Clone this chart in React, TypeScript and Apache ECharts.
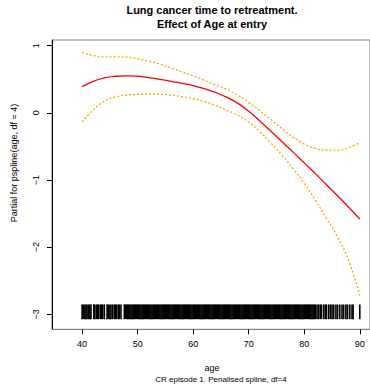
import React, { useEffect, useRef } from "react";
import * as echarts from "echarts";

const ages = [40, 42, 44, 46, 48, 50, 52, 54, 56, 58, 60, 62, 64, 66, 68, 70, 72, 74, 76, 78, 80, 82, 84, 86, 88, 90];
const fitValues = [0.39, 0.47, 0.52, 0.545, 0.552, 0.545, 0.525, 0.5, 0.47, 0.44, 0.405, 0.36, 0.305, 0.235, 0.145, 0.025, -0.12, -0.275, -0.43, -0.585, -0.745, -0.905, -1.07, -1.235, -1.405, -1.58];
const upperValues = [0.9, 0.855, 0.835, 0.835, 0.83, 0.805, 0.77, 0.725, 0.67, 0.61, 0.55, 0.485, 0.42, 0.35, 0.265, 0.155, 0.03, -0.1, -0.235, -0.365, -0.465, -0.53, -0.555, -0.555, -0.515, -0.445];
const lowerValues = [-0.13, 0.04, 0.17, 0.235, 0.265, 0.275, 0.278, 0.277, 0.265, 0.24, 0.21, 0.17, 0.11, 0.04, -0.035, -0.14, -0.28, -0.45, -0.63, -0.83, -1.05, -1.3, -1.57, -1.85, -2.2, -2.72];

const xTicks = [40, 50, 60, 70, 80, 90];
const yTicks = [-3, -2, -1, 0, 1];

const rugAges = [
  40.0, 40.2, 40.5, 40.7, 40.9, 41.2, 41.4, 41.6, 42.1, 42.3, 42.6, 42.8, 43.0, 43.3, 43.5, 43.7, 44.0,
  44.5, 44.7, 45.0, 45.2, 45.5, 45.8, 46.0, 46.2, 46.5, 46.7, 47.0,
  47.6, 47.8, 48.0, 48.2, 48.4, 48.6, 48.8, 49.0, 49.2, 49.4, 49.6, 49.8, 50.0, 50.2, 50.4, 50.6, 50.8,
  51.0, 51.2, 51.4, 51.6, 51.8, 52.0, 52.2, 52.4, 52.6, 52.8, 53.0, 53.2, 53.4, 53.6, 53.8,
  54.0, 54.2, 54.4, 54.6, 54.8, 55.0, 55.2, 55.4, 55.6, 55.8, 56.0, 56.2, 56.4, 56.6, 56.8,
  57.0, 57.2, 57.4, 57.6, 57.8, 58.0, 58.2, 58.4, 58.6, 58.8, 59.0, 59.2, 59.4, 59.6, 59.8,
  60.0, 60.2, 60.4, 60.6, 60.8, 61.0, 61.2, 61.4, 61.6, 61.8, 62.0, 62.2, 62.4, 62.6, 62.8,
  63.0, 63.2, 63.4, 63.6, 63.8, 64.0, 64.2, 64.4, 64.6, 64.8, 65.0, 65.2, 65.4, 65.6, 65.8,
  66.0, 66.2, 66.4, 66.6, 66.8, 67.0, 67.2, 67.4, 67.6, 67.8, 68.0, 68.2, 68.4, 68.6, 68.8,
  69.0, 69.2, 69.4, 69.6, 69.8, 70.0, 70.2, 70.4, 70.6, 70.8, 71.0, 71.2, 71.4, 71.6, 71.8,
  72.0, 72.2, 72.4, 72.6, 72.8, 73.0, 73.2, 73.4, 73.6, 73.8, 74.0, 74.2, 74.4, 74.6, 74.8,
  75.0, 75.2, 75.4, 75.6, 75.8, 76.0, 76.2, 76.4, 76.6, 76.8, 77.0, 77.2, 77.4, 77.6, 77.8,
  78.0, 78.2, 78.4, 78.6, 78.8, 79.0, 79.2, 79.4, 79.6, 79.8, 80.0, 80.2, 80.4, 80.6, 80.8,
  81.0, 81.2, 81.4, 81.6, 81.8, 82.0,
  82.3, 82.6, 82.9, 83.1, 83.5, 83.8, 84.0, 84.4, 84.7, 85.0, 85.3, 85.7, 86.0, 86.4, 86.8,
  87.1, 87.5, 87.8, 88.2, 88.6, 88.8, 90.0,
];

const RUG_TOP = -2.853;
const RUG_BOTTOM = -3.072;

const FONT = "Liberation Sans, Arial, Helvetica, sans-serif";

function pairs(xs: number[], ys: number[]) {
  return xs.map((x, i) => [x, ys[i]]);
}

export default function App() {
  const ref = useRef<HTMLDivElement>(null);
  useEffect(() => {
    if (!ref.current) return;
    const chart = echarts.init(ref.current, undefined, { renderer: "svg" });
    const fmt = (v: number) => (v < 0 ? "\u2212" + Math.abs(v) : String(v));
    const curve = (name: string, ys: number[], color: string, dashed: boolean) => ({
      type: "line",
      name,
      data: pairs(ages, ys),
      smooth: 0.5,
      showSymbol: false,
      lineStyle: { color, width: 1.3, type: dashed ? [2, 2] : "solid" },
    });
    chart.setOption({
      animation: false,
      backgroundColor: "#ffffff",
      grid: {
        left: 52,
        top: 40,
        width: 320,
        height: 289.3,
        show: true,
        borderColor: "#808080",
        borderWidth: 1,
        containLabel: false,
      },
      xAxis: {
        type: "value",
        min: 34.58,
        max: 91.84,
        splitLine: { show: false },
        axisLine: { show: true, onZero: false, lineStyle: { color: "#808080", width: 1 } },
        axisTick: {
          show: true,
          length: 5,
          customValues: xTicks,
          lineStyle: { color: "#000000", width: 1 },
        },
        axisLabel: {
          customValues: xTicks,
          color: "#000000",
          fontFamily: FONT,
          fontSize: 9,
          margin: 10,
        },
      },
      yAxis: {
        type: "value",
        min: -3.223,
        max: 1.085,
        splitLine: { show: false },
        axisLine: { show: true, onZero: false, lineStyle: { color: "#000000", width: 1 } },
        axisTick: {
          show: true,
          length: 5,
          customValues: yTicks,
          lineStyle: { color: "#000000", width: 1 },
        },
        axisLabel: {
          customValues: yTicks,
          rotate: 90,
          color: "#000000",
          fontFamily: FONT,
          fontSize: 9,
          margin: 12,
          formatter: (v: number) => fmt(v),
        },
      },
      series: [
        {
          type: "custom",
          name: "rug",
          data: rugAges.map((a) => [a]),
          renderItem: (params: any, api: any) => {
            const a = api.value(0);
            const p1 = api.coord([a, RUG_TOP]);
            const p2 = api.coord([a, RUG_BOTTOM]);
            return {
              type: "line",
              shape: { x1: p1[0], y1: p1[1], x2: p2[0], y2: p2[1] },
              style: { stroke: "#000000", lineWidth: 1.6 },
            };
          },
          silent: true,
        },
        curve("upper", upperValues, "#FFA500", true),
        curve("lower", lowerValues, "#FFA500", true),
        curve("fit", fitValues, "#FF0000", false),
      ],
      graphic: [
        {
          type: "text",
          x: 212,
          y: 10,
          style: {
            text: "Lung cancer time to retreatment.",
            fontFamily: FONT,
            fontSize: 11,
            fontWeight: "bold",
            fill: "#000000",
            textAlign: "center",
            textVerticalAlign: "middle",
          },
        },
        {
          type: "text",
          x: 212,
          y: 24,
          style: {
            text: "Effect of Age at entry",
            fontFamily: FONT,
            fontSize: 11,
            fontWeight: "bold",
            fill: "#000000",
            textAlign: "center",
            textVerticalAlign: "middle",
          },
        },
        {
          type: "text",
          x: 14,
          y: 163,
          rotation: Math.PI / 2,
          style: {
            text: "Partial for pspline(age, df = 4)",
            fontFamily: FONT,
            fontSize: 9,
            fill: "#000000",
            textAlign: "center",
            textVerticalAlign: "middle",
          },
        },
        {
          type: "text",
          x: 212,
          y: 368,
          style: {
            text: "age",
            fontFamily: FONT,
            fontSize: 9,
            fill: "#000000",
            textAlign: "center",
            textVerticalAlign: "middle",
          },
        },
        {
          type: "text",
          x: 221,
          y: 379,
          style: {
            text: "CR episode 1. Penalised spline, df=4",
            fontFamily: FONT,
            fontSize: 8,
            fill: "#000000",
            textAlign: "center",
            textVerticalAlign: "middle",
          },
        },
      ],
    });
    return () => chart.dispose();
  }, []);
  return (
    <div
      ref={ref}
      style={{ position: "absolute", left: 0, top: 0, width: 370, height: 385 }}
    />
  );
}
